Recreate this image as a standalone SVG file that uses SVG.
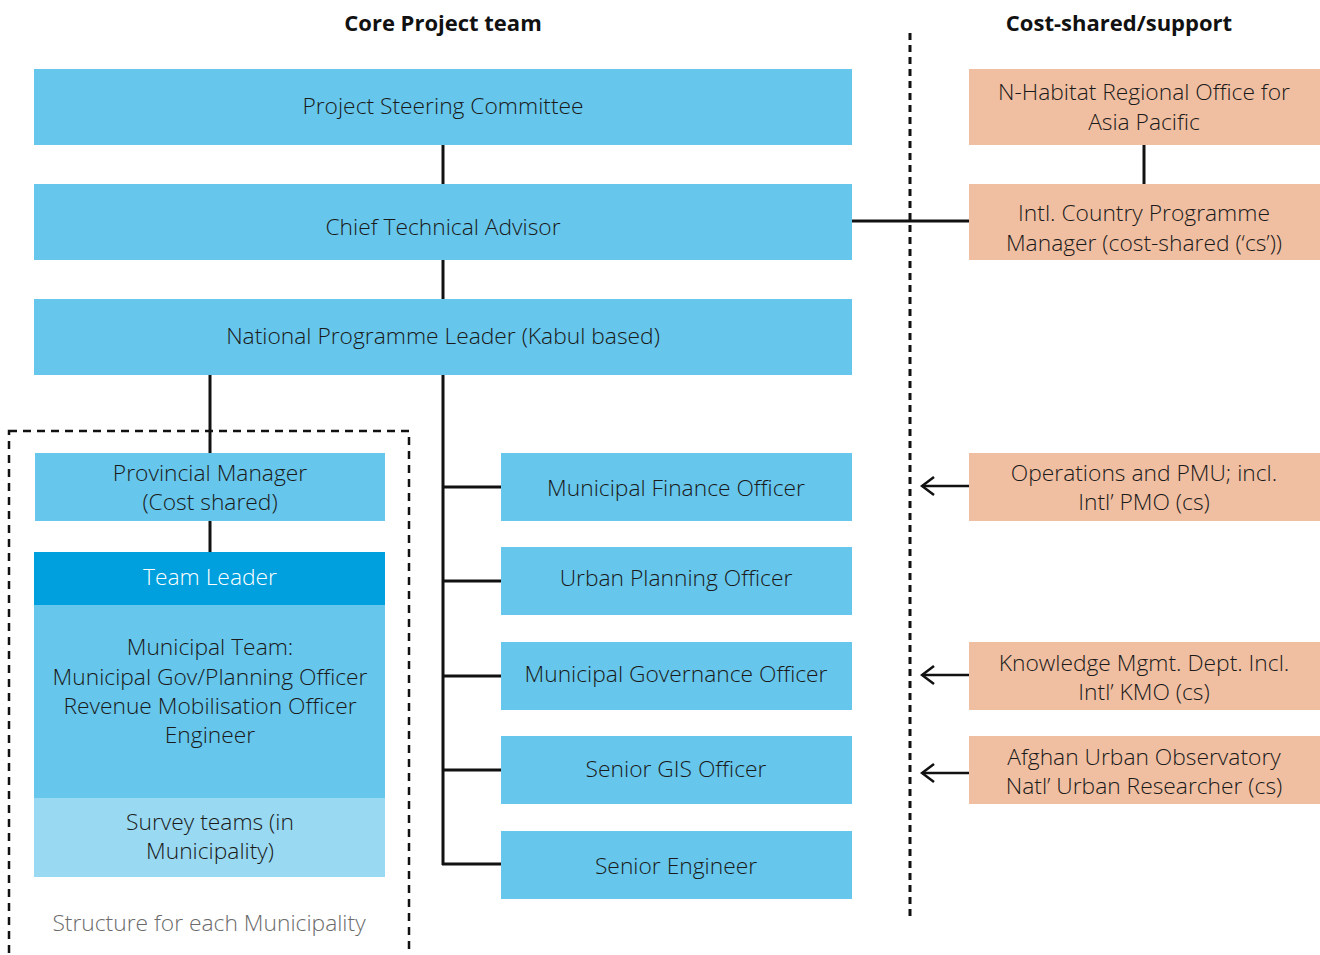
<svg xmlns="http://www.w3.org/2000/svg" width="1320" height="955" viewBox="0 0 1320 955">
<defs>
<style>
.t{font-family:"Open Sans","Noto Sans","Liberation Sans",sans-serif;font-size:22.8px;fill:#1a1a1a;text-anchor:middle;font-weight:300}
.h{font-family:"Open Sans","Noto Sans","Liberation Sans",sans-serif;font-size:22px;fill:#111;text-anchor:middle;font-weight:700}
.b{fill:#66c6eb}
.o{fill:#f0bfa2}
.ln{stroke:#111;stroke-width:3;fill:none}
.ar{stroke:#111;stroke-width:2.5;fill:none}
</style>
<marker id="arr" viewBox="0 0 16 20" refX="14" refY="10" markerWidth="16" markerHeight="20" markerUnits="userSpaceOnUse" orient="auto">
<path d="M2,1 L14,10 L2,19" fill="none" stroke="#111" stroke-width="2.5"/>
</marker>
</defs>
<rect width="1320" height="955" fill="#fff"/>
<text class="h" x="443" y="31">Core Project team</text>
<text class="h" x="1119" y="31">Cost-shared/support</text>
<g id="connectors">
<line class="ln" x1="443" y1="145" x2="443" y2="184"/>
<line class="ln" x1="443" y1="260" x2="443" y2="299"/>
<line class="ln" x1="443" y1="375" x2="443" y2="865"/>
<line class="ln" x1="442" y1="487" x2="501" y2="487"/>
<line class="ln" x1="442" y1="581" x2="501" y2="581"/>
<line class="ln" x1="442" y1="676" x2="501" y2="676"/>
<line class="ln" x1="442" y1="770" x2="501" y2="770"/>
<line class="ln" x1="442" y1="864" x2="501" y2="864"/>
<line class="ln" x1="210" y1="375" x2="210" y2="453"/>
<line class="ln" x1="210" y1="521" x2="210" y2="552"/>
<line class="ln" x1="1144" y1="145" x2="1144" y2="184"/>
<line class="ln" x1="852" y1="221" x2="969" y2="221"/>
<line x1="910" y1="33" x2="910" y2="921" stroke="#111" stroke-width="3" stroke-dasharray="7,5"/>
<line class="ar" x1="969" y1="486" x2="922" y2="486" marker-end="url(#arr)"/>
<line class="ar" x1="969" y1="675" x2="922" y2="675" marker-end="url(#arr)"/>
<line class="ar" x1="969" y1="773" x2="922" y2="773" marker-end="url(#arr)"/>
</g>
<g id="municipality">
<rect x="9" y="431" width="400" height="540" fill="none" stroke="#111" stroke-width="2.5" stroke-dasharray="8,6"/>
<text class="t" x="209" y="931" style="fill:#6b6b6b">Structure for each Municipality</text>
</g>
<g id="psc"><rect class="b" x="34" y="69" width="818" height="76"/><text class="t" x="443" y="114">Project Steering Committee</text></g>
<g id="cta"><rect class="b" x="34" y="184" width="818" height="76"/><text class="t" x="443" y="235">Chief Technical Advisor</text></g>
<g id="npl"><rect class="b" x="34" y="299" width="818" height="76"/><text class="t" x="443" y="344">National Programme Leader (Kabul based)</text></g>
<g id="pm"><rect class="b" x="35" y="453" width="350" height="68"/><text class="t" x="210" y="481">Provincial Manager</text><text class="t" x="210" y="510">(Cost shared)</text></g>
<g id="tl"><rect x="34" y="552" width="351" height="53" fill="#00a0de"/><text class="t" x="210" y="585" style="fill:#fff">Team Leader</text></g>
<g id="mt"><rect class="b" x="34" y="605" width="351" height="193"/><text class="t" x="210" y="655">Municipal Team:</text><text class="t" x="210" y="685">Municipal Gov/Planning Officer</text><text class="t" x="210" y="714">Revenue Mobilisation Officer</text><text class="t" x="210" y="743">Engineer</text></g>
<g id="st"><rect x="34" y="798" width="351" height="79" fill="#99d9f1"/><text class="t" x="210" y="830">Survey teams (in</text><text class="t" x="210" y="859">Municipality)</text></g>
<g id="mfo"><rect class="b" x="501" y="453" width="351" height="68"/><text class="t" x="676" y="496">Municipal Finance Officer</text></g>
<g id="upo"><rect class="b" x="501" y="547" width="351" height="68"/><text class="t" x="676" y="586">Urban Planning Officer</text></g>
<g id="mgo"><rect class="b" x="501" y="642" width="351" height="68"/><text class="t" x="676" y="682">Municipal Governance Officer</text></g>
<g id="sgo"><rect class="b" x="501" y="736" width="351" height="68"/><text class="t" x="676" y="777">Senior GIS Officer</text></g>
<g id="se"><rect class="b" x="501" y="831" width="351" height="68"/><text class="t" x="676" y="874">Senior Engineer</text></g>
<g id="habitat"><rect class="o" x="969" y="69" width="351" height="76"/><text class="t" x="1144" y="100">N-Habitat Regional Office for</text><text class="t" x="1144" y="130">Asia Pacific</text></g>
<g id="icpm"><rect class="o" x="969" y="184" width="351" height="76"/><text class="t" x="1144" y="221">Intl. Country Programme</text><text class="t" x="1144" y="251">Manager (cost-shared (‘cs’))</text></g>
<g id="ops"><rect class="o" x="969" y="453" width="351" height="68"/><text class="t" x="1144" y="481">Operations and PMU; incl.</text><text class="t" x="1144" y="510">Intl’ PMO (cs)</text></g>
<g id="km"><rect class="o" x="969" y="642" width="351" height="68"/><text class="t" x="1144" y="671">Knowledge Mgmt. Dept. Incl.</text><text class="t" x="1144" y="700">Intl’ KMO (cs)</text></g>
<g id="auo"><rect class="o" x="969" y="736" width="351" height="68"/><text class="t" x="1144" y="765">Afghan Urban Observatory</text><text class="t" x="1144" y="794">Natl’ Urban Researcher (cs)</text></g>
</svg>
